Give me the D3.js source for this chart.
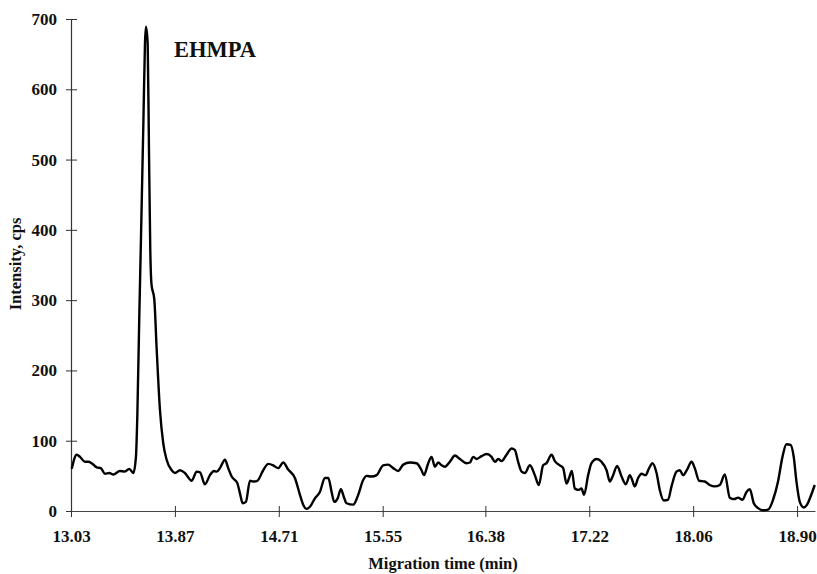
<!DOCTYPE html>
<html>
<head>
<meta charset="utf-8">
<script src="https://cdn.jsdelivr.net/npm/d3@7"></script>
<style>
  html, body { margin: 0; padding: 0; background: #fff; }
  svg { display: block; }
  text { font-family: "Liberation Serif", "Times New Roman", serif; font-weight: bold; fill: #111; }
</style>
</head>
<body>
<svg id="chart" width="817" height="574"></svg>
<script>
// Migration time (min)
const times = [
  13.036,13.076,13.103,13.143,13.170,13.197,13.238,13.270,13.305,13.340,13.372,13.426,13.466,13.501,13.534,
  13.555,13.566,13.582,13.596,13.616,13.628,13.636,13.650,13.660,13.671,13.681,13.703,13.723,13.749,13.776,13.803,13.844,13.871,
  13.911,13.951,14.006,14.046,14.073,14.113,14.153,14.186,14.208,14.234,14.275,14.301,14.329,14.374,14.396,14.418,14.444,
  14.477,14.503,14.536,14.584,14.625,14.665,14.705,14.746,14.786,14.840,14.881,14.907,14.935,14.962,15.002,15.042,15.083,
  15.110,15.137,15.158,15.186,15.212,15.236,15.258,15.312,15.352,15.392,15.420,15.460,15.501,15.554,15.594,15.635,15.675,
  15.716,15.770,15.824,15.864,15.883,15.918,15.945,15.972,15.999,16.026,16.053,16.093,16.134,16.174,16.228,16.255,16.281,
  16.309,16.349,16.390,16.430,16.457,16.484,16.511,16.551,16.592,16.618,16.645,16.673,16.699,16.740,16.780,16.812,16.847,
  16.874,16.915,16.942,16.982,17.009,17.036,17.057,17.079,17.103,17.130,17.157,17.178,17.211,17.238,17.279,17.319,17.360,
  17.386,17.413,17.445,17.481,17.516,17.548,17.567,17.588,17.615,17.643,17.675,17.704,17.731,17.764,17.790,17.823,17.857,
  17.885,17.925,17.952,17.979,18.011,18.047,18.073,18.108,18.154,18.194,18.235,18.275,18.316,18.356,18.391,18.423,18.459,
  18.491,18.518,18.550,18.585,18.625,18.666,18.706,18.746,18.782,18.814,18.847,18.873,18.895,18.922,18.954,18.981,19.008,19.043
];
// Intensity, cps
const intensity = [
  60,80,77,70,70,68,62,61,53,54,52,57,56,60,54,
  77,134,276,390,560,665,689,665,520,371,322,302,229,144,96,73,58,54,
  58,54,43,56,55,38,51,57,56,61,73,61,49,40,25,11,13,
  43,42,43,58,67,65,61,69,59,47,23,9,3,6,18,27,47,
  47,27,13,18,31,20,11,9,23,44,50,49,51,65,66,61,57,
  66,69,68,58,51,68,77,63,69,65,63,70,79,74,68,69,77,
  74,78,81,77,70,74,71,80,89,87,70,56,54,65,51,37,65,
  68,80,71,65,61,39,47,57,32,30,32,23,51,68,74,70,58,
  42,51,64,49,38,51,44,35,47,53,51,61,68,54,30,15,16,
  35,56,58,51,59,70,61,43,42,37,35,37,52,19,17,19,16,
  27,31,11,4,1,2,16,42,77,95,94,77,42,13,5,9,20,37
];
const xTickValues = [13.03, 13.87, 14.71, 15.55, 16.38, 17.22, 18.06, 18.90];
const xTickLabels = ["13.03", "13.87", "14.71", "15.55", "16.38", "17.22", "18.06", "18.90"];
const yTickValues = [0, 100, 200, 300, 400, 500, 600, 700];
const peakLabel = "EHMPA";
const xTitle = "Migration time (min)";
const yTitle = "Intensity, cps";

const data = times.map((t, i) => ({ t, v: intensity[i] }));

const svg = d3.select("#chart");
const x = d3.scaleLinear().domain([13.03, 19.045]).range([71, 815]);
const y = d3.scaleLinear().domain([0, 700]).range([511, 19]);

// Y axis
const yAxis = svg.append("g")
  .attr("transform", "translate(71,0)")
  .call(d3.axisLeft(y).tickValues(yTickValues).tickFormat(d3.format("d")).tickSize(5).tickSizeOuter(0).tickPadding(9));
yAxis.select(".domain").attr("stroke", "#333").attr("stroke-width", 1.2);
yAxis.selectAll(".tick line").attr("x1", 6).attr("x2", -5).attr("stroke", "#333");
yAxis.selectAll(".tick text").attr("font-size", 17).attr("font-family", "Liberation Serif").attr("font-weight", "bold").attr("fill", "#111");

// X axis
const xAxis = svg.append("g")
  .attr("transform", "translate(0,511)")
  .call(d3.axisBottom(x).tickValues(xTickValues).tickFormat((d, i) => xTickLabels[i]).tickSize(5).tickSizeOuter(0).tickPadding(14));
xAxis.select(".domain").attr("stroke", "#444").attr("stroke-width", 1.2);
xAxis.selectAll(".tick line").attr("y1", -5).attr("y2", 6).attr("stroke", "#333");
xAxis.selectAll(".tick text").attr("font-size", 17).attr("font-family", "Liberation Serif").attr("font-weight", "bold").attr("fill", "#111");

// Line
const line = d3.line().x(d => x(d.t)).y(d => y(d.v)).curve(d3.curveMonotoneX);
svg.append("path")
  .datum(data)
  .attr("d", line)
  .attr("fill", "none")
  .attr("stroke", "#000")
  .attr("stroke-width", 2.4)
  .attr("stroke-linejoin", "round");

// Peak label
svg.append("text")
  .attr("x", 174).attr("y", 57)
  .attr("font-size", 22.5)
  .text(peakLabel);

// Axis titles
svg.append("text")
  .attr("x", 443).attr("y", 569)
  .attr("text-anchor", "middle")
  .attr("font-size", 16.5)
  .text(xTitle);

svg.append("text")
  .attr("transform", "translate(21,264) rotate(-90)")
  .attr("text-anchor", "middle")
  .attr("font-size", 16.5)
  .text(yTitle);
</script>
</body>
</html>
